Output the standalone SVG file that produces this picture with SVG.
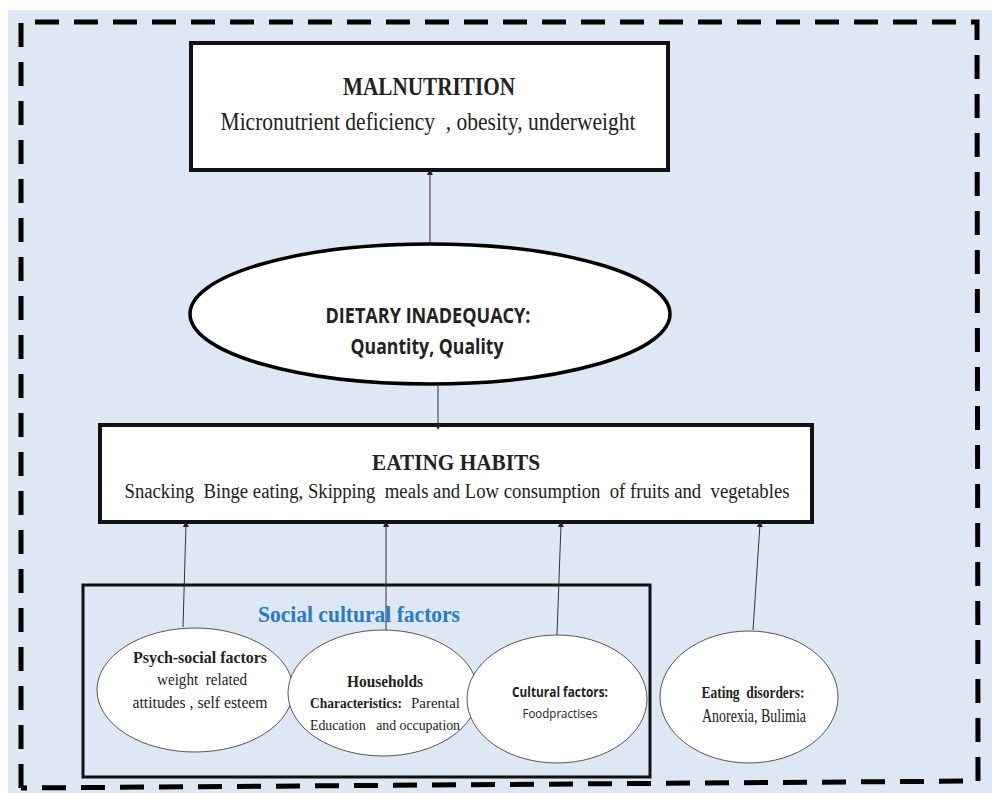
<svg xmlns="http://www.w3.org/2000/svg" width="992" height="793" viewBox="0 0 992 793">
<defs>
<marker id="ah" markerWidth="6" markerHeight="6" refX="3" refY="3" orient="auto" markerUnits="userSpaceOnUse">
<path d="M0,0 L6,3 L0,6 z" fill="#222"/>
</marker>
<style>
text{white-space:pre}
.serif{font-family:"Liberation Serif","Times New Roman",serif;fill:#222}
.sans{font-family:"Open Sans","Liberation Sans",sans-serif;fill:#222}
.b{font-weight:bold}
.box{fill:#fff;stroke:#111;stroke-width:4}
.ell{fill:#fff;stroke:#555;stroke-width:1}
.conn{stroke:#333;stroke-width:1;fill:none;marker-end:url(#ah)}
</style>
</defs>
<rect x="8" y="10" width="984" height="783" fill="#dde8f4"/>
<path d="M21,788 L21,22 L977,22 L978,781 L21,788" fill="none" stroke="#000" stroke-width="5" stroke-dasharray="24,15"/>

<g id="malnutrition">
<rect class="box" x="191" y="43" width="477" height="127"/>
<text class="serif b" x="429" y="95" font-size="25" text-anchor="middle" textLength="172" lengthAdjust="spacingAndGlyphs">MALNUTRITION</text>
<text class="serif" x="428" y="130" font-size="26" text-anchor="middle" textLength="415" lengthAdjust="spacingAndGlyphs" xml:space="preserve">Micronutrient deficiency  , obesity, underweight</text>
</g>

<g id="dietary">
<ellipse cx="430" cy="314" rx="240" ry="70" fill="#fff" stroke="#000" stroke-width="3.5"/>
<text class="sans b" x="428" y="323" font-size="21" text-anchor="middle" textLength="205" lengthAdjust="spacingAndGlyphs">DIETARY INADEQUACY:</text>
<text class="sans b" x="427" y="354" font-size="21" text-anchor="middle" textLength="153" lengthAdjust="spacingAndGlyphs">Quantity, Quality</text>
</g>

<g id="eating-habits">
<rect class="box" x="100" y="425" width="712" height="97"/>
<text class="serif b" x="456" y="470" font-size="23" text-anchor="middle" textLength="168" lengthAdjust="spacingAndGlyphs">EATING HABITS</text>
<text class="serif" x="457" y="498" font-size="20" text-anchor="middle" textLength="665" lengthAdjust="spacingAndGlyphs" xml:space="preserve">Snacking  Binge eating, Skipping  meals and Low consumption  of fruits and  vegetables</text>
</g>

<g id="social-cultural">
<rect x="83" y="585" width="567" height="192" fill="none" stroke="#111" stroke-width="3"/>
<text class="serif b" x="359" y="622" font-size="24" text-anchor="middle" style="fill:#2a7ac4" textLength="202" lengthAdjust="spacingAndGlyphs">Social cultural factors</text>
</g>

<g id="connectors">
<line class="conn" x1="430" y1="245" x2="430" y2="172"/>
<line class="conn" x1="438" y1="384" x2="438" y2="427"/>
<line class="conn" x1="183" y1="627" x2="186" y2="524"/>
<line class="conn" x1="386" y1="631" x2="386" y2="524"/>
<line class="conn" x1="557" y1="635" x2="561" y2="524"/>
<line class="conn" x1="753" y1="630" x2="760" y2="524"/>
</g>

<g id="psych-social">
<ellipse class="ell" cx="195" cy="690" rx="98" ry="62"/>
<text class="serif b" x="200" y="663" font-size="17" text-anchor="middle" textLength="134" lengthAdjust="spacingAndGlyphs">Psych-social factors</text>
<text class="serif" x="202" y="685" font-size="17" text-anchor="middle" textLength="90" lengthAdjust="spacingAndGlyphs" xml:space="preserve">weight  related</text>
<text class="serif" x="200" y="708" font-size="17" text-anchor="middle" textLength="135" lengthAdjust="spacingAndGlyphs">attitudes , self esteem</text>
</g>

<g id="households">
<ellipse class="ell" cx="383" cy="693" rx="95" ry="63"/>
<text class="serif b" x="385" y="687" font-size="16" text-anchor="middle" textLength="76" lengthAdjust="spacingAndGlyphs">Households</text>
<text class="serif b" x="310" y="708" font-size="15" textLength="92" lengthAdjust="spacingAndGlyphs">Characteristics:</text>
<text class="serif" x="460" y="708" font-size="15" text-anchor="end" textLength="49" lengthAdjust="spacingAndGlyphs">Parental</text>
<text class="serif" x="385" y="730" font-size="15" text-anchor="middle" textLength="150" lengthAdjust="spacingAndGlyphs" xml:space="preserve">Education   and occupation</text>
</g>

<g id="cultural">
<ellipse class="ell" cx="557" cy="699" rx="90" ry="64"/>
<text class="sans b" x="560" y="697" font-size="14" text-anchor="middle" textLength="96" lengthAdjust="spacingAndGlyphs">Cultural factors:</text>
<text class="sans" x="560" y="718" font-size="13" text-anchor="middle" textLength="75" lengthAdjust="spacingAndGlyphs">Foodpractises</text>
</g>

<g id="eating-disorders">
<ellipse class="ell" cx="749" cy="697" rx="89" ry="66"/>
<text class="serif b" x="753" y="698" font-size="16" text-anchor="middle" textLength="103" lengthAdjust="spacingAndGlyphs" xml:space="preserve">Eating  disorders:</text>
<text class="serif" x="754" y="722" font-size="18" text-anchor="middle" textLength="104" lengthAdjust="spacingAndGlyphs">Anorexia, Bulimia</text>
</g>
</svg>
